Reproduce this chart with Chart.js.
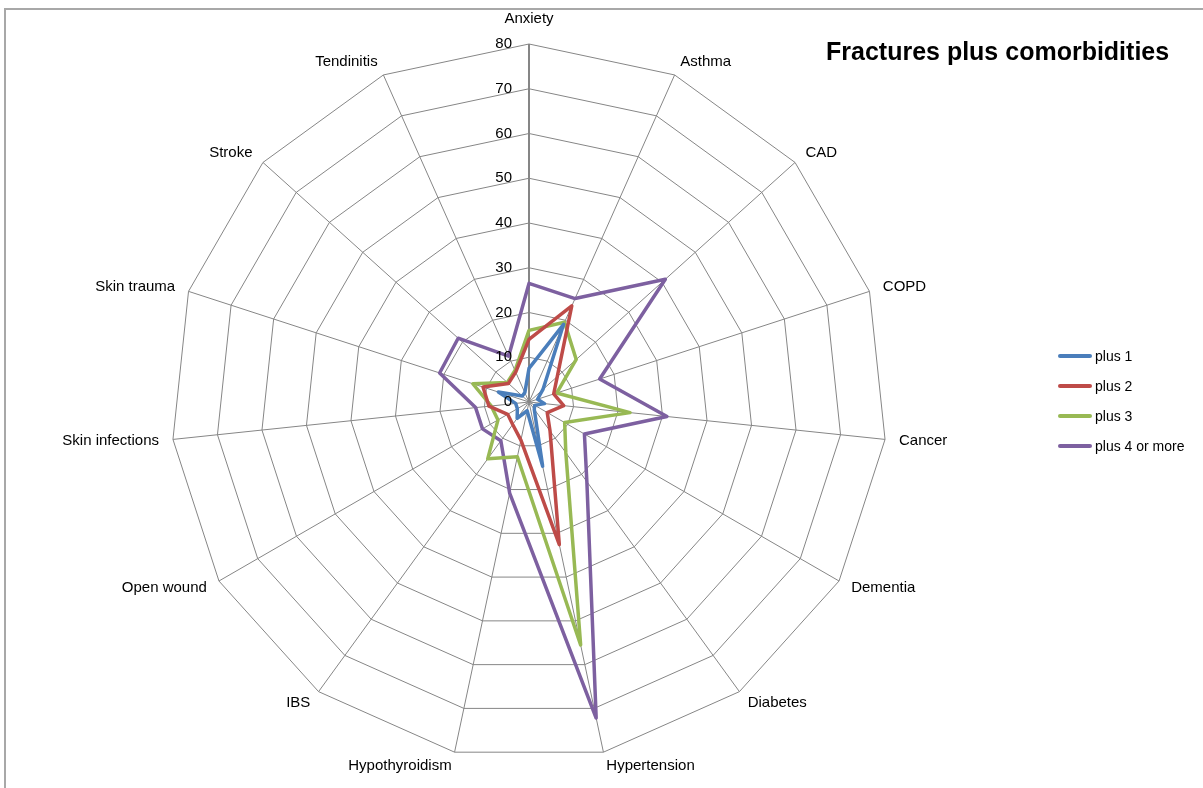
<!DOCTYPE html>
<html>
<head>
<meta charset="utf-8">
<title>Fractures plus comorbidities</title>
<script src="https://cdn.jsdelivr.net/npm/chart.js@4.4.1/dist/chart.umd.min.js"></script>
<style>
    html, body { margin: 0; padding: 0; background: #fff; overflow: hidden; }
    #wrap { position: relative; width: 1203px; height: 788px; }
    #frame {
        position: absolute; left: 4px; top: 8px; width: 1400px; height: 1000px;
        border-left: 2px solid #a8a8a8; border-top: 2px solid #a8a8a8;
    }
    #chart { position: absolute; left: 0; top: 0; }
    #title {
        position: absolute; left: 826px; top: 37px;
        font: bold 25px "Liberation Sans", Arial, sans-serif; color: #000; white-space: nowrap;
    }
    .legend-row {
        position: absolute; left: 1058px; height: 18px;
        font: 14px "Liberation Sans", Arial, sans-serif; color: #000; white-space: nowrap;
        display: flex; align-items: center;
    }
    .legend-line { width: 34px; height: 4px; border-radius: 2px; margin-right: 3px; }
</style>
</head>
<body>
<div id="wrap">
    <div id="frame"></div>
    <canvas id="chart" width="1203" height="788"></canvas>
    <div id="title">Fractures plus comorbidities</div>
    <div id="legend"></div>
</div>
<script>
// ==============================================
// ① data (clockwise from top)
// ==============================================
const categories = [
    "Anxiety", "Asthma", "CAD", "COPD", "Cancer", "Dementia", "Diabetes",
    "Hypertension", "Hypothyroidism", "IBS", "Open wound", "Skin infections",
    "Skin trauma", "Stroke", "Tendinitis"
];
const plus1 = [7.5, 19, 4.2, 2, 3.5, 1.5, 2, 14.7, 2, 4.5, 3, 3, 7.2, 2, 2.3];
const plus2 = [14, 23.5, 8.5, 5.8, 7.8, 4.7, 8, 32.6, 8.7, 6.2, 5.5, 9, 10.8, 6.2, 7.3];
const plus3 = [16, 19.5, 14.2, 6.5, 22.7, 9.2, 14, 55.5, 12.5, 15.7, 8, 8.5, 13.2, 6.5, 7.7];
const plus4 = [26.5, 25.3, 41, 16.6, 31, 14.3, 22, 72.2, 20.8, 10.7, 12, 12, 21, 21.3, 11.2];
const seriesNames = ["plus 1", "plus 2", "plus 3", "plus 4 or more"];
const tickValues = [0, 10, 20, 30, 40, 50, 60, 70, 80];

// ==============================================
// ② colours (Office 2007 palette)
// ==============================================
const colorList = ["#4a7ebb", "#be4b48", "#98b954", "#7d60a0"];
const gridColor = "#868686";
const labelFont = '15px "Liberation Sans", Arial, sans-serif';

// ==============================================
// ③ axis texts: category names + value labels left of the axis
// ==============================================
const axisText = {
    id: "axisText",
    afterDraw(chart) {
        const r = chart.scales.r;
        const ctx = chart.ctx;
        ctx.save();
        ctx.font = labelFont;
        ctx.fillStyle = "#000";
        ctx.textBaseline = "middle";

        for (let i = 0; i < categories.length; i++) {
            const p = r.getPointPosition(i, r.drawingArea + 14);
            const deg = Math.round(r.getIndexAngle(i) * 180 / Math.PI) % 360;
            let y = p.y;
            if (deg === 0) { ctx.textAlign = "center"; y -= 11; }
            else ctx.textAlign = deg < 180 ? "left" : "right";
            ctx.fillText(categories[i], p.x, y);
        }

        ctx.textAlign = "right";
        for (let j = 0; j < tickValues.length; j++) {
            const v = tickValues[j];
            ctx.fillText(String(v), r.xCenter - 17, r.yCenter - r.getDistanceFromCenterForValue(v));
        }
        ctx.restore();
    }
};

// ==============================================
// ④ datasets
// ==============================================
const allSeries = [plus1, plus2, plus3, plus4];
const datasets = [];
for (let k = 0; k < allSeries.length; k++) {
    datasets.push({
        label: seriesNames[k],
        data: allSeries[k],
        borderColor: colorList[k],
        backgroundColor: "transparent",
        borderWidth: 3.5,
        borderJoinStyle: "round",
        fill: false,
        pointRadius: 0,
        pointHoverRadius: 0,
        tension: 0
    });
}

// ==============================================
// ⑤ radar chart (padding puts centre at 529,402 with radius 358)
// ==============================================
new Chart(document.getElementById("chart").getContext("2d"), {
    type: "radar",
    data: { labels: categories, datasets: datasets },
    options: {
        responsive: false,
        animation: false,
        layout: { padding: { left: 171, right: 316, top: 44, bottom: 28 } },
        plugins: {
            legend: { display: false },
            tooltip: { enabled: false }
        },
        scales: {
            r: {
                min: tickValues[0],
                max: tickValues[tickValues.length - 1],
                ticks: { display: false, stepSize: 10 },
                pointLabels: { display: false },
                grid: { color: gridColor, lineWidth: 1 },
                angleLines: {
                    color: gridColor,
                    lineWidth: ctx => (ctx.index === 0 ? 2 : 1)
                }
            }
        }
    },
    plugins: [axisText]
});

// ==============================================
// ⑥ legend on the right
// ==============================================
const legend = document.getElementById("legend");
for (let k = 0; k < seriesNames.length; k++) {
    legend.insertAdjacentHTML("beforeend",
        `<div class="legend-row" style="top:${347 + k * 30}px">` +
        `<span class="legend-line" style="background:${colorList[k]}"></span>${seriesNames[k]}</div>`);
}
</script>
</body>
</html>
